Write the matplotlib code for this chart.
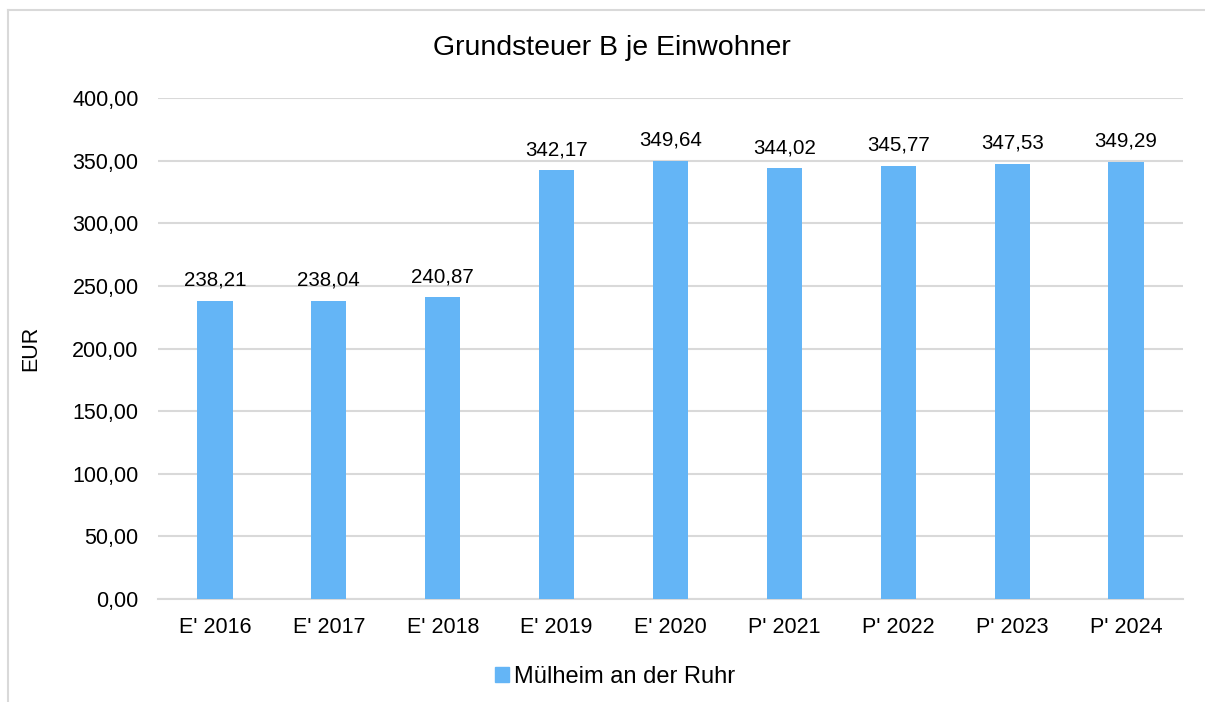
import matplotlib.pyplot as plt
import matplotlib.patches as mpatches
from matplotlib.lines import Line2D
from matplotlib.ticker import FuncFormatter

plt.rcParams['font.family'] = ['Liberation Sans', 'DejaVu Sans']

categories = ["E' 2016", "E' 2017", "E' 2018", "E' 2019", "E' 2020",
              "P' 2021", "P' 2022", "P' 2023", "P' 2024"]
values = [238.21, 238.04, 240.87, 342.17, 349.64, 344.02, 345.77, 347.53, 349.29]
series_name = "Mülheim an der Ruhr"
bar_color = '#64B5F6'

W, H = 1205, 702
fig = plt.figure(figsize=(W / 100, H / 100), dpi=100)

# outer chart frame: only top and left edges are visible in the screenshot
fig.lines.append(Line2D([8 / W, 1], [1 - 10 / H, 1 - 10 / H], transform=fig.transFigure,
                        color='#D9D9D9', linewidth=1.5))
fig.lines.append(Line2D([8 / W, 8 / W], [0, 1 - 10 / H], transform=fig.transFigure,
                        color='#D9D9D9', linewidth=1.5))

ax = fig.add_axes([158 / W, 1 - 599 / H, (1183 - 158) / W, (599 - 98) / H])
x = range(len(categories))
bars = ax.bar(x, values, width=0.31, color=bar_color, label=series_name, zorder=3)

ax.set_ylim(0, 400)
ax.set_xlim(-0.5, len(categories) - 0.5)
ax.set_yticks(range(0, 401, 50))
ax.yaxis.set_major_formatter(FuncFormatter(lambda v, p: f"{v:.2f}".replace('.', ',')))
ax.set_xticks(list(x))
ax.set_xticklabels(categories)
ax.tick_params(axis='both', length=0, labelsize=15.5, colors='black')
ax.tick_params(axis='y', pad=14)
ax.tick_params(axis='x', pad=13)
ax.grid(axis='y', color='#D9D9D9', linewidth=1.5, zorder=0)
for s in ['top', 'right', 'left']:
    ax.spines[s].set_visible(False)
ax.spines['bottom'].set_color('#D9D9D9')
ax.spines['bottom'].set_linewidth(1.5)

for b, v in zip(bars, values):
    ax.annotate(f"{v:.2f}".replace('.', ','), (b.get_x() + b.get_width() / 2, v),
                xytext=(0, 8), textcoords='offset points', ha='center', va='bottom',
                fontsize=14.8)

ax.set_ylabel('EUR', fontsize=15.5)
ax.yaxis.set_label_coords(-117 / (1183 - 158), 0.5)

fig.text(612 / W, 1 - 48 / H, 'Grundsteuer B je Einwohner', ha='center', va='center',
         fontsize=20.5)

fig.legend(handles=[mpatches.Patch(color=bar_color, label=series_name)],
           loc='center', bbox_to_anchor=(615 / W, 1 - 677 / H), frameon=False,
           fontsize=17, handlelength=0.6, handleheight=0.6, handletextpad=0.2)

fig.savefig('out.png', dpi=100)
